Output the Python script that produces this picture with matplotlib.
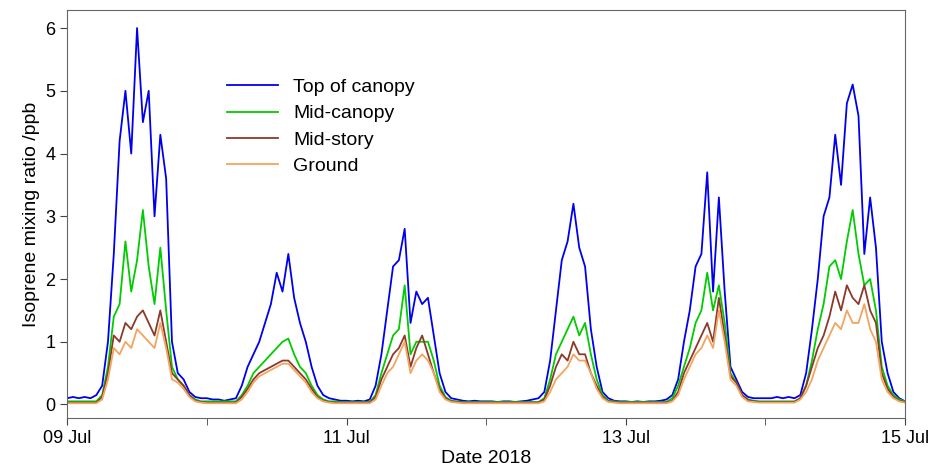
import matplotlib
matplotlib.use('Agg')
from matplotlib import pyplot as plt
import numpy as np

plt.rcParams['font.family'] = ['Liberation Sans', 'DejaVu Sans']

# hourly values, 09 Jul 00:00 to 15 Jul 00:00
top = ([0.1,0.12,0.1,0.12,0.1,0.15,0.3,1.0,2.4,4.2,5.0,4.0,6.0,4.5,5.0,3.0,4.3,3.6,1.0,0.5,0.4,0.2,0.12,0.1]
     + [0.1,0.08,0.08,0.06,0.08,0.1,0.3,0.6,0.8,1.0,1.3,1.6,2.1,1.8,2.4,1.7,1.3,1.0,0.6,0.3,0.15,0.1,0.08,0.06]
     + [0.06,0.05,0.06,0.05,0.08,0.3,0.8,1.5,2.2,2.3,2.8,1.3,1.8,1.6,1.7,1.1,0.5,0.2,0.1,0.08,0.06,0.05,0.06,0.05]
     + [0.05,0.05,0.04,0.05,0.05,0.04,0.05,0.06,0.08,0.1,0.2,0.7,1.5,2.3,2.6,3.2,2.5,2.2,1.2,0.6,0.2,0.1,0.06,0.05]
     + [0.05,0.04,0.05,0.04,0.05,0.05,0.06,0.08,0.15,0.4,1.0,1.5,2.2,2.4,3.7,1.8,3.3,1.8,0.6,0.4,0.2,0.12,0.1,0.1]
     + [0.1,0.1,0.12,0.1,0.12,0.1,0.15,0.5,1.2,2.0,3.0,3.3,4.3,3.5,4.8,5.1,4.6,2.4,3.3,2.5,1.0,0.5,0.2,0.1]
     + [0.05])
mid_canopy = ([0.05]*6 + [0.15,0.6,1.4,1.6,2.6,1.8,2.3,3.1,2.2,1.6,2.5,1.5,0.6,0.4,0.3,0.15,0.08,0.05]
     + [0.05]*6 + [0.15,0.3,0.5,0.6,0.7,0.8,0.9,1.0,1.05,0.8,0.6,0.5,0.3,0.15,0.08,0.05,0.05,0.04]
     + [0.04]*5 + [0.15,0.5,0.8,1.1,1.2,1.9,0.8,1.0,1.0,1.0,0.7,0.3,0.12,0.06,0.05,0.04,0.04,0.04,0.04]
     + [0.04]*10 + [0.1,0.4,0.8,1.0,1.2,1.4,1.1,1.3,0.8,0.4,0.15,0.06,0.05,0.04]
     + [0.04]*8 + [0.1,0.3,0.6,0.9,1.3,1.5,2.1,1.5,1.9,1.3,0.5,0.35,0.15,0.08,0.06,0.05]
     + [0.05]*6 + [0.1,0.3,0.7,1.2,1.6,2.2,2.3,2.0,2.6,3.1,2.4,1.9,2.0,1.5,0.6,0.3,0.15,0.08]
     + [0.05])
mid_story = ([0.03]*6 + [0.12,0.5,1.1,1.0,1.3,1.2,1.4,1.5,1.3,1.1,1.5,1.0,0.5,0.4,0.3,0.15,0.06,0.04]
     + [0.03]*6 + [0.12,0.25,0.4,0.5,0.55,0.6,0.65,0.7,0.7,0.6,0.5,0.4,0.25,0.12,0.06,0.04,0.03,0.03]
     + [0.03]*5 + [0.12,0.4,0.6,0.8,0.9,1.1,0.6,0.9,1.1,0.8,0.5,0.25,0.1,0.05,0.04,0.03,0.03,0.03,0.03]
     + [0.03]*10 + [0.08,0.3,0.6,0.8,0.7,1.0,0.8,0.8,0.5,0.3,0.12,0.05,0.04,0.03]
     + [0.03]*8 + [0.06,0.2,0.5,0.7,0.9,1.1,1.3,1.0,1.7,1.1,0.45,0.35,0.15,0.07,0.05,0.04]
     + [0.04]*6 + [0.1,0.3,0.6,0.9,1.1,1.4,1.8,1.5,1.9,1.7,1.6,1.9,1.5,1.3,0.5,0.25,0.12,0.06]
     + [0.04])
ground = ([0.02]*6 + [0.08,0.4,0.9,0.8,1.0,0.9,1.2,1.1,1.0,0.9,1.3,0.9,0.4,0.35,0.25,0.12,0.05,0.03]
     + [0.02]*6 + [0.08,0.2,0.35,0.45,0.5,0.55,0.6,0.65,0.65,0.55,0.45,0.35,0.2,0.1,0.05,0.03,0.02,0.02]
     + [0.02]*5 + [0.08,0.3,0.5,0.6,0.8,1.0,0.5,0.7,0.8,0.7,0.5,0.2,0.08,0.04,0.03,0.02,0.02,0.02,0.02]
     + [0.02]*10 + [0.05,0.2,0.4,0.5,0.6,0.8,0.7,0.7,0.5,0.25,0.1,0.04,0.03,0.02]
     + [0.02]*8 + [0.05,0.15,0.4,0.6,0.8,0.9,1.1,0.9,1.5,1.0,0.4,0.3,0.12,0.05,0.04,0.03]
     + [0.03]*6 + [0.08,0.2,0.4,0.7,0.9,1.1,1.3,1.2,1.5,1.3,1.3,1.6,1.2,1.0,0.4,0.2,0.1,0.05]
     + [0.03])
labels = ['Top of canopy', 'Mid-canopy', 'Mid-story', 'Ground']
colors = ['#0000ee', '#00cc00', '#8b3a2a', '#f4a460']
tick_labels = ['09 Jul', '11 Jul', '13 Jul', '15 Jul']

hours = np.arange(len(top))

fig = plt.figure(figsize=(9.34, 4.70), dpi=100)
ax = fig.add_axes([0.072, 0.11, 0.897, 0.869])
for series, lab, c in zip([top, mid_canopy, mid_story, ground], labels, colors):
    ax.plot(hours, series, color=c, lw=1.3, label=lab)

ax.set_xlim(0, 144)
ax.set_ylim(-0.22, 6.29)
ax.set_xticks([0, 48, 96, 144])
ax.set_xticklabels(tick_labels, fontsize=13)
ax.set_xticks([24, 72, 120], minor=True)
ax.set_yticks(range(7))
ax.tick_params(axis='y', labelsize=13)
ax.tick_params(which='both', direction='out', length=5, color='#444444')
for s in ax.spines.values():
    s.set_color('#666666')
ax.set_xlabel('Date 2018', fontsize=14, labelpad=2)
ax.set_ylabel('Isoprene mixing ratio /ppb', fontsize=14)
ax.legend(loc='upper left', bbox_to_anchor=(0.17, 0.875), frameon=False,
          fontsize=14, handlelength=2.6, labelspacing=0.45)

fig.savefig('out.png', dpi=100)
